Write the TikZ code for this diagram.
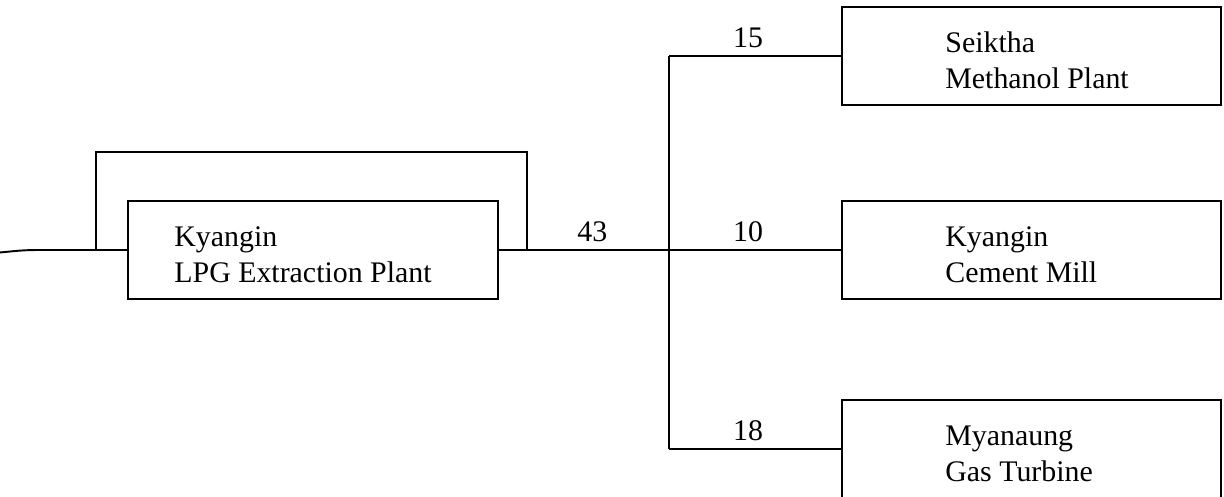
\documentclass[tikz,border=0pt]{standalone}
\usepackage{fontspec}
\setmainfont{Liberation Serif}
\usetikzlibrary{positioning,calc}

\begin{document}
\begin{tikzpicture}[every node/.style={font=\fontsize{17}{20.5}\selectfont}, box/.style={draw,line width=1.1pt,minimum height=1.96cm,inner sep=0pt}, plant/.style={box,minimum width=7.58cm}, plantname/.style={align=left,inner sep=0pt,yshift=-0.09cm}, pipe/.style={line width=1.1pt}, qty/.style={above=0.04cm,inner sep=0.1cm,pos=0.46}]
\useasboundingbox (0,0) rectangle (24.48,9.94);
\node[box,minimum width=7.40cm] (lpg) at (6.26,4.94) {};
\node[plant] (seik) at (20.63,8.82) {};
\node[plant] (cem) at (20.63,4.94) {};
\node[plant] (myan) at (20.63,0.96) {};
\node[plantname,right=0.94cm of lpg.west] (lpgtext) {Kyangin\\LPG Extraction Plant};
\node[plantname,right=2.08cm of seik.west] (seiktext) {Seiktha\\Methanol Plant};
\node[plantname,right=2.08cm of cem.west] (cemtext) {Kyangin\\Cement Mill};
\node[plantname,right=2.08cm of myan.west] (myantext) {Myanaung\\Gas Turbine};
% line ends and tee points
\coordinate (in) at (0,4.89);
\coordinate (bl) at (1.92,4.94);
\coordinate (br) at (10.54,4.94);
\coordinate (j) at (13.38,4.94);
\coordinate (t) at (j |- seik.west);
\coordinate (b) at (j |- myan.west);
\draw[pipe] (in) .. controls (0.5,4.94) .. (1.0,4.94) -- (bl) -- (lpg.west);
\draw[pipe] (bl) -- ++(0,1.96) -| (br);
\draw[pipe] (lpg.east) -- (br) -- node[qty]{43} (j) -- node[qty]{10} (cem.west);
\draw[pipe] (t) -- (b);
\draw[pipe] (t) -- node[qty]{15} (seik.west);
\draw[pipe] (b) -- node[qty]{18} (myan.west);
\end{tikzpicture}
\end{document}
